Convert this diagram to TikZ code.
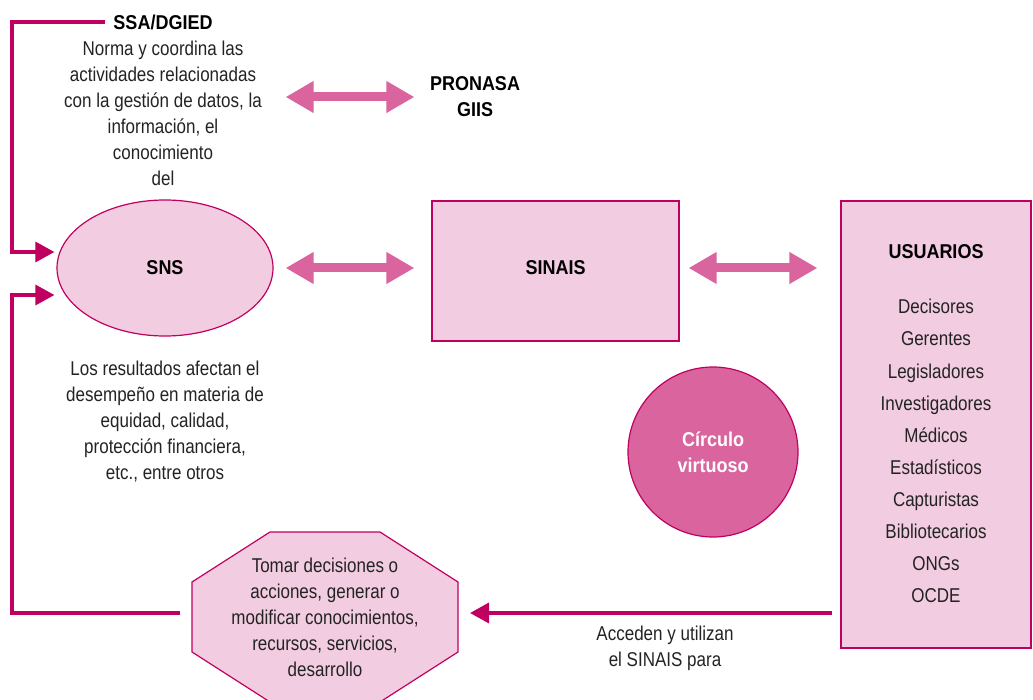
\documentclass[tikz,border=0pt]{standalone}
\usepackage{fontspec}
\setmainfont{Liberation Sans}[FakeStretch=0.85,BoldFeatures={FakeStretch=0.9}]
\usetikzlibrary{arrows.meta,shapes.geometric,positioning}
\definecolor{linea}{RGB}{192,0,96}
\definecolor{rosa}{RGB}{242,204,224}
\definecolor{fuerte}{RGB}{217,100,158}
\definecolor{texto}{RGB}{35,35,35}
\tikzset{
  caja/.style={draw=linea,line width=1.2pt,fill=rosa},
  liga/.style={draw=linea,line width=3.5pt,-{Triangle[width=20pt,length=19pt]}},
  flecha/.style={draw=fuerte,line width=9pt,{Triangle[width=30pt,length=28pt]}-{Triangle[width=30pt,length=28pt]}},
  txt/.style={align=center,font=\fontsize{20}{26}\selectfont,text=texto},
  tit/.style={align=center,font=\fontsize{20}{26}\selectfont\bfseries,text=black},
}
\begin{document}
\begin{tikzpicture}[x=1pt,y=-1pt]
  \useasboundingbox (0,0) rectangle (1033,700);
  \coordinate (lx) at (12,0);
  % nodos principales
  \node[caja,ellipse,minimum width=216,minimum height=136,inner sep=0] (sns) at (165,268) {};
  \node[tit] at (sns) {SNS};
  \node[caja,rectangle,minimum width=247,minimum height=140] (sinais) at (555.5,271) {};
  \node[tit] at (sinais |- sns) {SINAIS};
  \node[caja,rectangle,minimum width=190,minimum height=447] (usuarios) at (936,424.5) {};
  \node[tit] at (936,252) {USUARIOS};
  \foreach \u [count=\i from 0] in {Decisores,Gerentes,Legisladores,Investigadores,M\'edicos,Estad\'isticos,Capturistas,Bibliotecarios,ONGs,OCDE}
    \node[txt,anchor=base] at (936,314+32*\i) {\u};
  \node[circle,draw=linea,line width=1.2pt,fill=fuerte,minimum size=170] (virtuoso) at (713,452) {};
  \node[tit,text=white] at (virtuoso) {C\'irculo\\virtuoso};
  % octagono
  \draw[caja] (270,532) -- (380,532) -- (458,582) -- (458,652) -- (380,702) -- (270,702) -- (192,652) -- (192,582) -- cycle;
  \coordinate (octe) at (458,613);
  \coordinate (octw) at (192,613);
  \node[txt] (tomar) at (325,617) {Tomar decisiones o\\acciones, generar o\\modificar conocimientos,\\recursos, servicios,\\desarrollo};
  % textos
  \node[tit] (ssa) at (163,22) {SSA/DGIED};
  \node[txt] (norma) at (163,113) {Norma y coordina las\\actividades relacionadas\\con la gesti\'on de datos, la\\informaci\'on, el\\conocimiento\\del};
  \node[tit] (pronasa) at (475,97) {PRONASA\\GIIS};
  \node[txt] (resultados) at (165,422) {Los resultados afectan el\\desempe\~no en materia de\\equidad, calidad,\\protecci\'on financiera,\\etc., entre otros};
  \node[txt] (acceden) at (665,648.5) {Acceden y utilizan\\el SINAIS para};
  % flechas
  \draw[flecha] ([xshift=12pt]sns.east |- pronasa) -- ([xshift=-17pt]sinais.west |- pronasa);
  \draw[flecha] ([xshift=12pt]sns.east) -- ([xshift=-17pt]sinais.west |- sns.east);
  \draw[flecha] ([xshift=9pt]sinais.east |- sns.east) -- ([xshift=-23pt]usuarios.west |- sns.east);
  \draw[liga] ([xshift=-5pt]ssa.west) -- (ssa.west -| lx) |- ([xshift=-2pt,yshift=16pt]sns.west);
  \draw[liga] ([xshift=-12pt]octw) -- (octw -| lx) |- ([xshift=-2pt,yshift=-27pt]sns.west);
  \draw[liga] ([xshift=-8pt]usuarios.west |- octe) -- ([xshift=12pt]octe);
\end{tikzpicture}
\end{document}
